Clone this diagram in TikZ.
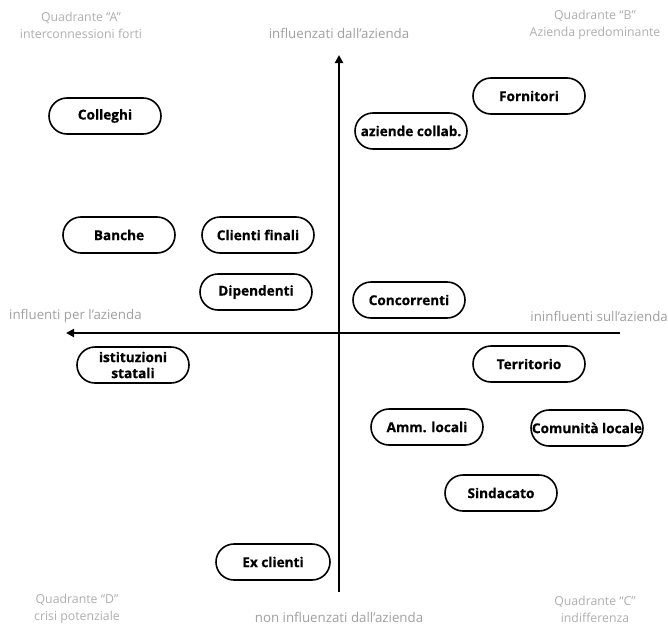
\documentclass[tikz,border=0pt]{standalone}
\usepackage{fontspec}
\setmainfont{Open Sans}
\newfontfamily\heavyfont{Open Sans}[BoldFeatures={FakeBold=0.6}]
\usetikzlibrary{arrows.meta,shapes.misc}
\definecolor{lbl}{RGB}{160,160,160}
\definecolor{qlbl}{RGB}{175,175,175}
\begin{document}
\begin{tikzpicture}[x=1pt,y=-1pt,
  pill/.style={draw=black,line width=1.6pt,rounded rectangle,minimum width=113pt,minimum height=36pt,inner sep=0.5pt,font=\heavyfont\fontsize{13.6}{15}\selectfont\bfseries,align=center,fill=white},
  lab/.style={text=lbl,font=\fontsize{13.3}{17}\selectfont,align=center,inner sep=0pt},
  qlab/.style={text=qlbl,font=\fontsize{12.3}{17}\selectfont,align=center,inner sep=0pt},
  axis/.style={line width=2pt,-{Triangle[length=8pt,width=8pt]}}]
\useasboundingbox[fill=white] (0,0) rectangle (668,626);
\coordinate (vb) at (339,592);
\coordinate (vt) at (339,55);
\coordinate (hr) at (620,333);
\coordinate (hl) at (66,333);
\draw[axis] (vb) -- (vt);
\draw[axis] (hr) -- (hl);
\node[pill] (colleghi) at (105,116) {Colleghi};
\node[pill] (fornitori) at (529,96) {Fornitori};
\node[pill] (aziende) at (411,131) {aziende collab.};
\node[pill] (banche) at (119,235) {Banche};
\node[pill] (clienti) at (258,235) {Clienti finali};
\node[pill] (dipendenti) at (256,292) {Dipendenti};
\node[pill] (concorrenti) at (409,300) {Concorrenti};
\node[pill,font=\heavyfont\fontsize{13.6}{16}\selectfont\bfseries] (istituzioni) at (133,365) {istituzioni\\statali};
\node[pill] (territorio) at (529,364) {Territorio};
\node[pill] (amm) at (427,427) {Amm. locali};
\node[pill] (comunita) at (587,428) {Comunità locale};
\node[pill] (sindacato) at (501,493) {Sindacato};
\node[pill,minimum width=115pt] (ex) at (273,562) {Ex clienti};
\node[qlab] (qa) at (81,25) {Quadrante “A”\\interconnessioni forti};
\node[qlab] (qb) at (595,25) {Quadrante “B”\\Azienda predominante};
\node[lab] (top) at (339,33) {influenzati dall’azienda};
\node[lab,anchor=west] (left) at (9,316) {influenti per l’azienda};
\node[lab,anchor=east] (right) at (668,316) {ininfluenti sull’azienda};
\node[qlab] (qd) at (77,609) {Quadrante “D”\\crisi potenziale};
\node[lab] (bottom) at (339,617) {non influenzati dall’azienda};
\node[qlab] (qc) at (595,609) {Quadrante “C”\\indifferenza};
\end{tikzpicture}
\end{document}
